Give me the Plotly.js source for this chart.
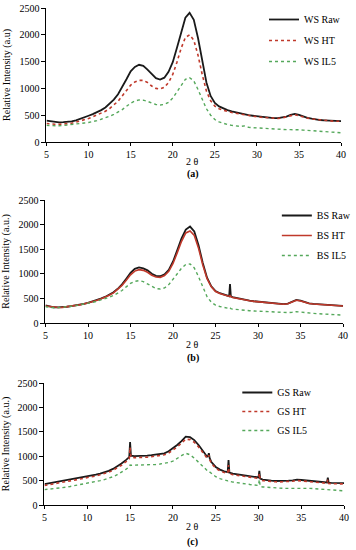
<!DOCTYPE html>
<html>
<head>
<meta charset="utf-8">
<script src="https://cdn.plot.ly/plotly-3.0.1.min.js"></script>
<style>html,body{margin:0;padding:0;background:#fff;}#chart{width:356px;height:550px;}</style>
</head>
<body>
<div id="chart"></div>
<script>
// ---- Data (2θ in degrees, intensity in a.u.) ----
const twoThetaWS = [5,5.5,6,6.5,7,7.5,8,8.5,9,9.5,10,10.5,11,11.5,12,12.5,13,13.5,14,14.5,15,15.5,16,16.5,17,17.5,18,18.5,19,19.5,20,20.5,21,21.5,22,22.5,23,23.5,24,24.5,25,25.5,26,26.5,27,27.5,28,28.5,29,29.5,30,30.5,31,31.5,32,32.5,33,33.5,34,34.5,35,35.5,36,36.5,37,37.5,38,38.5,39,39.5,40];
const wsRaw = [400,385,375,368,370,375,385,405,430,460,490,520,555,595,645,710,790,890,1020,1170,1320,1400,1440,1420,1350,1260,1190,1165,1200,1310,1490,1760,2060,2320,2410,2280,1940,1500,1110,860,730,665,625,595,570,550,530,515,500,490,480,470,460,450,445,445,455,475,505,525,505,475,450,435,420,410,405,400,395,390,390];
const wsHT = [345,335,330,330,335,340,350,370,390,415,440,470,500,535,575,625,685,760,860,960,1060,1120,1150,1150,1110,1045,1000,990,1020,1110,1260,1490,1750,1950,2000,1900,1620,1260,950,770,670,620,590,570,550,535,520,505,490,480,470,462,455,447,440,440,450,470,495,510,490,465,445,430,420,410,400,395,390,387,385];
const wsIL5 = [310,305,300,302,308,315,325,335,345,355,365,380,400,425,450,480,515,555,605,665,725,765,785,780,760,725,700,690,700,740,820,935,1060,1170,1200,1140,980,790,620,500,420,375,345,325,310,300,290,300,275,268,262,255,250,245,240,236,232,230,230,232,228,222,218,212,208,202,197,192,186,178,170];

const twoThetaBS = [5,5.5,6,6.5,7,7.5,8,8.5,9,9.5,10,10.5,11,11.5,12,12.5,13,13.5,14,14.5,15,15.5,16,16.5,17,17.5,18,18.5,19,19.5,20,20.5,21,21.5,22,22.5,23,23.5,24,24.5,25,25.5,26,26.5,26.6,26.7,26.8,27,27.5,28,28.5,29,29.5,30,30.5,31,31.5,32,32.5,33,33.5,34,34.5,35,35.5,36,36.5,37,37.5,38,38.5,39,39.5,40];
const bsRaw = [360,335,320,318,320,330,342,355,370,390,410,435,460,495,530,575,625,695,785,900,1020,1100,1130,1110,1070,1000,960,950,990,1080,1250,1480,1720,1900,1960,1860,1580,1220,920,745,650,605,575,550,545,790,540,525,505,485,470,455,442,432,422,412,402,393,387,385,395,425,470,455,420,400,390,382,375,370,365,360,355,350];
const bsHT = [345,330,318,315,318,328,340,352,368,385,405,430,455,488,522,565,612,680,765,870,980,1055,1085,1070,1030,970,935,928,965,1050,1210,1430,1660,1830,1870,1780,1520,1180,900,735,640,598,568,545,540,560,535,520,500,482,467,452,440,430,420,410,400,390,384,382,392,420,462,448,415,395,385,378,372,366,360,355,350,345];
const bsIL5 = [330,318,310,312,318,328,340,352,366,382,398,418,440,465,492,525,560,605,660,735,805,848,860,842,792,735,700,690,712,780,880,1000,1115,1190,1200,1120,940,720,535,425,362,335,312,298,296,310,292,283,272,262,256,250,245,240,233,226,220,215,212,210,212,218,232,222,210,200,195,190,185,180,175,170,165,160];

const twoThetaGS = [5,5.5,6,6.5,7,7.5,8,8.5,9,9.5,10,10.5,11,11.5,12,12.5,13,13.5,14,14.5,14.9,15,15.1,15.5,16,16.5,17,17.5,18,18.5,19,19.5,20,20.5,21,21.5,22,22.5,23,23.5,24,24.1,24.2,24.3,24.5,25,25.5,26,26.4,26.5,26.6,27,27.5,28,28.5,29,29.5,30,30.1,30.2,30.5,31,31.5,32,32.5,33,33.5,34,34.5,35,35.5,36,36.5,37,37.5,38,38.1,38.2,38.5,39,39.5,40];
const gsRaw = [430,445,460,475,490,505,520,535,550,565,580,600,620,645,670,700,740,790,850,920,980,1290,1010,1000,1000,1005,1010,1020,1030,1045,1060,1100,1160,1230,1310,1400,1390,1330,1230,1100,990,1000,1060,960,880,780,725,690,675,920,665,645,630,615,600,585,572,565,700,540,520,505,498,492,490,492,498,505,520,512,505,495,485,475,468,462,560,458,455,450,448,450];
const gsHT = [400,418,435,450,465,480,495,510,525,540,556,575,595,618,643,672,710,758,815,885,945,1180,975,970,970,975,980,990,1000,1012,1028,1065,1120,1190,1265,1350,1340,1285,1190,1065,960,970,1020,930,850,755,700,665,650,820,640,622,607,592,578,565,553,545,650,520,500,488,480,475,473,475,480,488,502,495,488,478,468,458,450,445,520,441,437,433,430,432];
const gsIL5 = [315,322,330,340,350,365,380,395,410,425,440,460,480,500,520,548,580,620,670,730,780,820,815,815,818,818,820,825,830,840,850,870,900,960,1010,1060,1030,960,870,780,700,690,690,675,640,580,540,510,495,500,488,470,455,440,430,420,410,400,520,380,370,362,355,345,342,340,340,342,348,350,345,340,335,330,325,320,322,315,308,300,295,290];

const yTicks = [0,500,1000,1500,2000,2500];
const xTicks = [5,10,15,20,25,30,35,40];

// ---- Styling ----
const FONT = 'Liberation Serif, Times New Roman, serif';
const cRaw = '#1a1a1a', cHT = '#c0392b', cIL = '#55a85b';

function tr(x, y, name, xa, ya, lg, color, dash, width) {
  return {x: x, y: y, name: name, xaxis: xa, yaxis: ya, legend: lg, legendgroup: name,
          type: 'scatter', mode: 'lines', line: {color: color, dash: dash, width: width}};
}

const data = [
  tr(twoThetaWS, wsRaw, 'WS Raw', 'x', 'y', 'legend', cRaw, 'solid', 1.8),
  tr(twoThetaWS, wsHT, 'WS HT', 'x', 'y', 'legend', cHT, 'dot', 1.6),
  tr(twoThetaWS, wsIL5, 'WS IL5', 'x', 'y', 'legend', cIL, 'dot', 1.4),
  tr(twoThetaBS, bsRaw, 'BS Raw', 'x2', 'y2', 'legend2', cRaw, 'solid', 1.8),
  tr(twoThetaBS, bsHT, 'BS HT', 'x2', 'y2', 'legend2', cHT, 'solid', 1.6),
  tr(twoThetaBS, bsIL5, 'BS IL5', 'x2', 'y2', 'legend2', cIL, 'dot', 1.4),
  tr(twoThetaGS, gsRaw, 'GS Raw', 'x3', 'y3', 'legend3', cRaw, 'solid', 1.8),
  tr(twoThetaGS, gsHT, 'GS HT', 'x3', 'y3', 'legend3', cHT, 'dot', 1.6),
  tr(twoThetaGS, gsIL5, 'GS IL5', 'x3', 'y3', 'legend3', cIL, 'dot', 1.4)
];

const W = 356, H = 550;
function xax(l, r, anchor) {
  return {domain: [l / W, r / W], range: [5, 40], tickvals: xTicks, ticks: 'outside', ticklen: 3,
          showline: true, linecolor: '#000', linewidth: 1, tickcolor: '#000', showgrid: false,
          zeroline: false, anchor: anchor, tickfont: {family: FONT, size: 10, color: '#000'}, fixedrange: true};
}
function yax(top, bottom, anchor, title) {
  return {domain: [1 - bottom / H, 1 - top / H], range: [0, 2500], tickvals: yTicks, ticks: 'outside',
          ticklen: 4, showline: true, linecolor: '#000', linewidth: 1, tickcolor: '#000', showgrid: false,
          zeroline: false, anchor: anchor, tickfont: {family: FONT, size: 10, color: '#000'},
          title: {text: title, font: {family: FONT, size: 10, color: '#000'}, standoff: 6}};
}
function leg(xpx, ypx, gap) {
  return {x: xpx / W, y: 1 - ypx / H, xanchor: 'left', yanchor: 'top', bgcolor: 'rgba(0,0,0,0)',
          font: {family: FONT, size: 10, color: '#000'}, itemwidth: 30, tracegroupgap: gap};
}
function ann(text, ypx, bold) {
  return {text: bold ? '<b>' + text + '</b>' : text, x: 195 / W, y: 1 - ypx / H, xref: 'paper', yref: 'paper',
          showarrow: false, xanchor: 'center', yanchor: 'middle', font: {family: FONT, size: 10, color: '#000'}};
}

const layout = {
  width: W, height: H, margin: {l: 0, r: 0, t: 0, b: 0}, paper_bgcolor: '#fff', plot_bgcolor: '#fff',
  showlegend: true,
  xaxis: xax(47, 345, 'y'), yaxis: yax(8, 142, 'x', 'Relative Intensity (a.u)'),
  xaxis2: xax(46, 347, 'y2'), yaxis2: yax(200, 323, 'x2', 'Relative Intensity (a.u.)'),
  xaxis3: xax(45, 348, 'y3'), yaxis3: yax(383, 505, 'x3', 'Relative Intensity (a.u.)'),
  legend: leg(267, 5, 2), legend2: leg(280, 201, 1), legend3: leg(240, 378, 0),
  annotations: [ann('2 θ', 161), ann('(a)', 174, true), ann('2 θ', 344), ann('(b)', 358, true),
                ann('2 θ', 526), ann('(c)', 542, true)]
};

Plotly.newPlot('chart', data, layout, {staticPlot: true, displayModeBar: false});
</script>
</body>
</html>
